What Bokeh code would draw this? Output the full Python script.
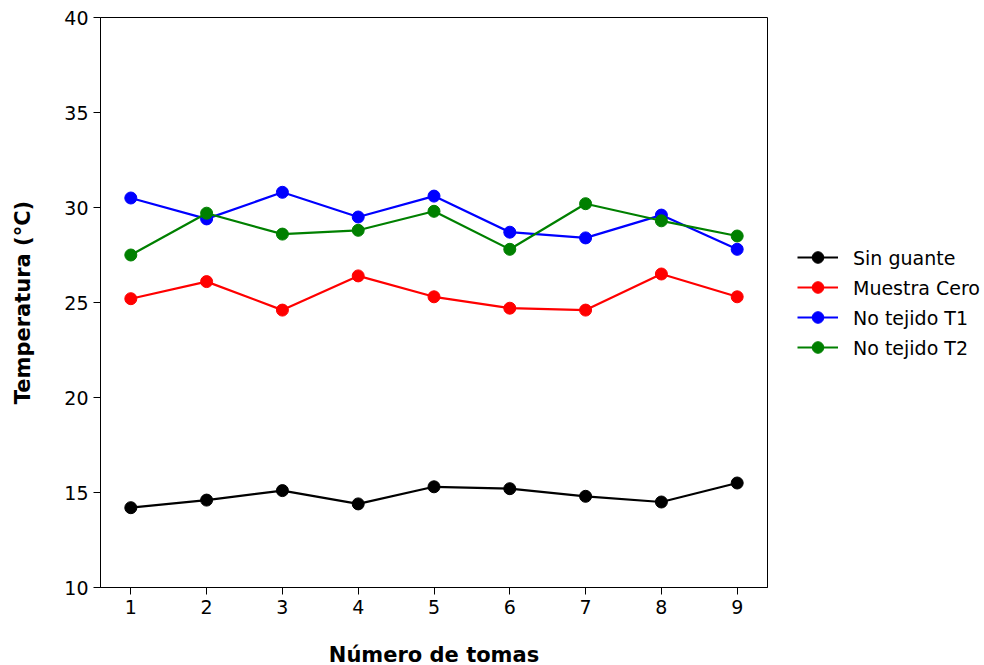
from bokeh.plotting import figure
from bokeh.models import Legend, LegendItem, FixedTicker, Range1d
from bokeh.embed import file_html
from bokeh.resources import INLINE

tomas = [1, 2, 3, 4, 5, 6, 7, 8, 9]
sin_guante = [14.2, 14.6, 15.1, 14.4, 15.3, 15.2, 14.8, 14.5, 15.5]
muestra_cero = [25.2, 26.1, 24.6, 26.4, 25.3, 24.7, 24.6, 26.5, 25.3]
no_tejido_t1 = [30.5, 29.4, 30.8, 29.5, 30.6, 28.7, 28.4, 29.6, 27.8]
no_tejido_t2 = [27.5, 29.7, 28.6, 28.8, 29.8, 27.8, 30.2, 29.3, 28.5]

series = [
    ("Sin guante", sin_guante, "#000000"),
    ("Muestra Cero", muestra_cero, "#ff0000"),
    ("No tejido T1", no_tejido_t1, "#0000ff"),
    ("No tejido T2", no_tejido_t2, "#008000"),
]

FONT = "DejaVu Sans"

p = figure(
    output_backend="svg", toolbar_location=None,
    frame_width=667, frame_height=570,
    min_border_left=100, min_border_top=17, min_border_bottom=78, min_border_right=209,
    x_range=Range1d(0.6, 9.4), y_range=Range1d(10, 40),
)
p.background_fill_color = "white"
p.border_fill_color = "white"
p.outline_line_color = "black"
p.outline_line_width = 1
p.xgrid.visible = False
p.ygrid.visible = False

items = []
for name, vals, col in series:
    l = p.line(tomas, vals, line_color=col, line_width=2.2)
    s = p.scatter(tomas, vals, size=12, fill_color=col, line_color=col)
    items.append(LegendItem(label=name, renderers=[l, s]))

for ax in (p.xaxis[0], p.yaxis[0]):
    ax.major_label_text_font = FONT
    ax.major_label_text_font_size = "19px"
    ax.major_label_text_color = "black"
    ax.axis_label_text_font = FONT
    ax.axis_label_text_font_size = "21px"
    ax.axis_label_text_font_style = "bold"
    ax.axis_label_text_color = "black"
    ax.major_tick_out = 7
    ax.major_tick_in = 0
    ax.minor_tick_out = 0
    ax.minor_tick_in = 0
    ax.axis_line_color = "black"
    ax.major_tick_line_color = "black"
    ax.major_label_standoff = 5

p.xaxis.ticker = FixedTicker(ticks=tomas)
p.yaxis.ticker = FixedTicker(ticks=[10, 15, 20, 25, 30, 35, 40])
p.xaxis.axis_label = "Número de tomas"
p.yaxis.axis_label = "Temperatura (°C)"
p.xaxis.axis_label_standoff = 26
p.yaxis.axis_label_standoff = 26

legend = Legend(items=items, location="center_left")
legend.label_text_font = FONT
legend.label_text_font_size = "19px"
legend.label_text_color = "black"
legend.border_line_color = None
legend.background_fill_alpha = 0
legend.glyph_width = 41
legend.glyph_height = 29
legend.label_standoff = 15
legend.spacing = 1
legend.margin = 30
legend.padding = 0
p.add_layout(legend, "right")

open("out.html", "w").write(file_html(p, INLINE))
